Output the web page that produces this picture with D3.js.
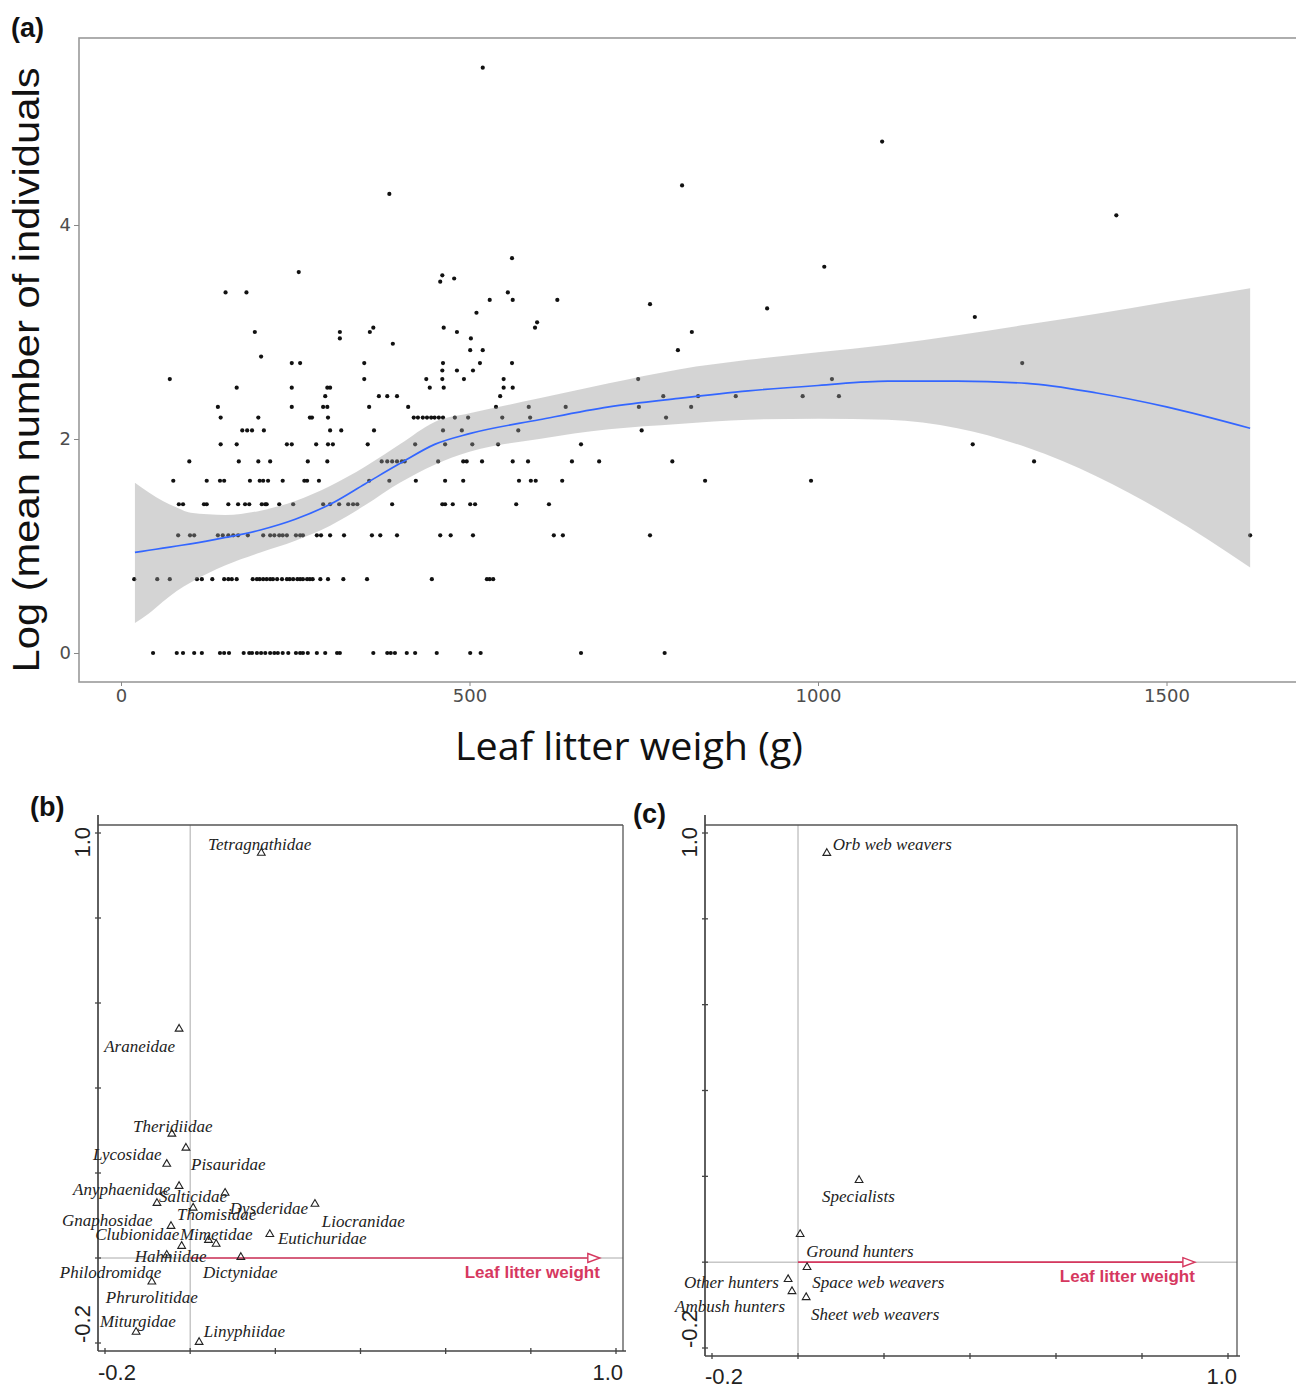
<!DOCTYPE html>
<html><head><meta charset="utf-8">
<script src="https://cdn.jsdelivr.net/npm/d3@7"></script>
<style>body{margin:0;background:#fff}</style>
</head><body>
<script>
// ---------------- Panel (a) data ----------------
// y levels: log(mean number of individuals); x: leaf litter weight (g)
const countLevels = [0.00,0.69,1.10,1.39,1.61,1.79,1.95,2.08,2.20,2.30,2.40,2.48,2.56,2.64,2.71,2.77,2.83,2.89,2.94,3.00,3.04,3.09,3.14,3.18,3.22,3.26,3.30,3.37,3.47,3.50,3.53,3.56,3.61,3.69,4.09,4.29,4.37,4.78,5.47];
const weightsAtLevel = [
  [46,80,89,105,116,142,148,155,176,184,188,195,201,207,214,220,225,232,240,251,257,261,268,281,293,310,314,362,382,387,393,410,422,453,501,516,660,780],
  [19,52,70,109,116,131,148,154,159,166,189,195,199,204,209,214,218,224,231,238,242,247,253,257,261,267,271,275,286,297,319,353,446,525,529,534],
  [82,99,105,139,146,154,161,168,182,204,214,220,227,232,238,251,257,261,281,287,300,320,360,372,396,458,473,505,621,634,759,1620],
  [83,89,119,123,154,168,178,184,202,207,209,227,247,290,300,313,326,333,339,389,461,465,476,501,508,567,614],
  [75,123,142,148,185,199,204,211,232,263,267,284,356,385,423,465,491,571,588,595,633,838,990],
  [98,169,197,214,268,296,374,382,389,396,403,407,455,491,496,518,562,584,647,686,791,1310],
  [143,166,238,245,280,297,304,354,422,465,504,541,660,1222],
  [174,181,188,205,300,316,363,462,489,570,747],
  [143,197,271,274,297,420,426,433,439,445,450,456,462,479,498,547,587,782],
  [139,245,290,296,356,412,538,585,638,743,818],
  [293,370,382,396,544,778,828,882,978,1030],
  [166,245,296,300,443,463,549,562],
  [70,349,438,461,492,549,742,1020],
  [461,482,505],
  [245,257,349,462,515,561,1293],
  [201],
  [501,519,799],
  [390],
  [314,502],
  [192,314,357,482,819],
  [362,463,594],
  [597],
  [1225],
  [510],
  [927],
  [759],
  [529,562,626],
  [150,180,555],
  [458],
  [478],
  [461],
  [255],
  [1009],
  [561],
  [1428],
  [385],
  [805],
  [1092],
  [519]
];
// smoother (loess) and its confidence band
const fitX     = [20,40,60,80,100,150,200,250,300,350,400,450,500,600,700,800,900,1000,1100,1200,1300,1400,1500,1620];
const fitY     = [0.94,0.96,0.98,1.00,1.02,1.08,1.15,1.25,1.39,1.58,1.77,1.95,2.05,2.18,2.30,2.38,2.45,2.50,2.54,2.54,2.52,2.43,2.30,2.10];
const fitUpper = [1.59,1.50,1.42,1.36,1.31,1.29,1.33,1.42,1.56,1.74,1.95,2.16,2.24,2.38,2.52,2.65,2.74,2.81,2.88,2.97,3.07,3.17,3.28,3.41];
const fitLower = [0.28,0.37,0.48,0.58,0.66,0.82,0.94,1.05,1.19,1.38,1.59,1.76,1.88,2.00,2.09,2.14,2.18,2.19,2.18,2.10,1.92,1.65,1.30,0.80];
const xTicksA = [0,500,1000,1500];
const yTicksA = [0,2,4];

// ---------------- Panel (b) data ----------------
const familyNames = ["Tetragnathidae","Araneidae","Theridiidae","Pisauridae","Lycosidae","Anyphaenidae","Salticidae","Dysderidae","Thomisidae","Liocranidae","Gnaphosidae","Clubionidae","Mimetidae","Phrurolitidae","Eutichuridae","Hahniidae","Dictynidae","Philodromidae","Miturgidae","Linyphiidae"];
const familyAx1 = [0.167,-0.026,-0.043,-0.010,-0.055,-0.026,-0.078,0.082,0.007,0.293,-0.045,-0.020,0.043,0.061,0.187,-0.055,0.119,-0.090,-0.127,0.021];
const familyAx2 = [0.953,0.539,0.292,0.259,0.221,0.169,0.129,0.153,0.118,0.127,0.075,0.028,0.042,0.033,0.056,0.007,0.002,-0.056,-0.174,-0.198];
const familyLabX = [0.042,-0.202,-0.134,0.002,-0.228,-0.275,-0.073,0.093,-0.031,0.309,-0.301,-0.223,-0.024,-0.198,0.206,-0.130,0.030,-0.306,-0.212,0.032];
const familyLabY = [0.960,0.485,0.296,0.207,0.231,0.148,0.132,0.104,0.089,0.073,0.075,0.042,0.042,-0.106,0.033,-0.009,-0.047,-0.047,-0.162,-0.186];
const envArrowB = 0.962;

// ---------------- Panel (c) data ----------------
const guildNames = ["Orb web weavers","Specialists","Ground hunters","Space web weavers","Other hunters","Ambush hunters","Sheet web weavers"];
const guildAx1 = [0.067,0.142,0.005,0.021,-0.023,-0.014,0.019];
const guildAx2 = [0.953,0.191,0.065,-0.012,-0.040,-0.068,-0.082];
const guildLabX = [0.081,0.056,0.019,0.033,-0.265,-0.286,0.030];
const guildLabY = [0.960,0.140,0.012,-0.061,-0.061,-0.117,-0.135];
const envArrowC = 0.923;
const ordTicks = [-0.2,0,0.2,0.4,0.6,0.8,1.0];
const envName = "Leaf litter weight";

// ================= drawing =================
const svg = d3.select("body").append("svg").attr("width",1296).attr("height",1388)
  .style("font-family","'Liberation Sans', Arial, sans-serif");

// ---------- Panel (a) ----------
const xA = d3.scaleLinear().domain([0,1500]).range([121,1166.5]);
const yA = d3.scaleLinear().domain([0,4]).range([653,225]);
const gA = svg.append("g");
gA.append("rect").attr("x",79).attr("y",38).attr("width",1260).attr("height",644)
  .attr("fill","none").attr("stroke","#9a9a9a").attr("stroke-width",1.6);

const pts = [];
countLevels.forEach((lv,i)=>weightsAtLevel[i].forEach(w=>pts.push([w,lv])));
gA.append("g").selectAll("circle").data(pts).join("circle")
  .attr("cx",d=>xA(d[0])).attr("cy",d=>yA(d[1])).attr("r",2.1).attr("fill","#111");

const band = d3.area().x((d,i)=>xA(fitX[i])).y0((d,i)=>yA(fitLower[i])).y1((d,i)=>yA(fitUpper[i])).curve(d3.curveMonotoneX);
gA.append("path").attr("d",band(fitX)).attr("fill","#999").attr("fill-opacity",0.42);
const fitLine = d3.line().x((d,i)=>xA(fitX[i])).y((d,i)=>yA(fitY[i])).curve(d3.curveMonotoneX);
gA.append("path").attr("d",fitLine(fitX)).attr("fill","none").attr("stroke","#3366FF").attr("stroke-width",1.7);

const axYA = gA.append("g").attr("transform","translate(79,0)")
  .call(d3.axisLeft(yA).tickValues(yTicksA).tickFormat(d3.format("d")).tickSize(5).tickPadding(3));
const axXA = gA.append("g").attr("transform","translate(0,682)")
  .call(d3.axisBottom(xA).tickValues(xTicksA).tickFormat(d3.format("d")).tickSize(4).tickPadding(3));
[axYA,axXA].forEach(a=>{
  a.select(".domain").remove();
  a.selectAll(".tick line").attr("stroke","#888");
  a.selectAll(".tick text").attr("fill","#4d4d4d").style("font-family","'DejaVu Sans', sans-serif").style("font-size","18px");
});

gA.append("text").attr("transform","translate(39,370) rotate(-90)").attr("text-anchor","middle")
  .attr("textLength",605).attr("lengthAdjust","spacingAndGlyphs")
  .style("font-size","37px").attr("fill","#111").text("Log (mean number of individuals");
gA.append("text").attr("x",455).attr("y",760).attr("textLength",348).attr("lengthAdjust","spacingAndGlyphs")
  .style("font-family","'Open Sans', sans-serif").style("font-size","38px").attr("fill","#111").text("Leaf litter weigh (g)");
svg.append("text").attr("x",11).attr("y",37).style("font-size","27px").style("font-weight","bold").attr("fill","#111").text("(a)");

// ---------- ordination panels ----------
function ordination(cfg){
  const {x0,x1,yTop,yBot,xs,ys,names,ax1,ax2,labX,labY,arrowEnd,label,panelLetter,letterX,letterY,xLabBase} = cfg;
  const g = svg.append("g");
  // zero lines
  g.append("line").attr("x1",x0).attr("x2",x1).attr("y1",ys(0)).attr("y2",ys(0)).attr("stroke","#aaa").attr("stroke-width",1);
  g.append("line").attr("x1",xs(0)).attr("x2",xs(0)).attr("y1",yTop).attr("y2",yBot).attr("stroke","#aaa").attr("stroke-width",1);
  // frame
  g.append("line").attr("x1",x0).attr("x2",x1).attr("y1",yTop).attr("y2",yTop).attr("stroke","#555").attr("stroke-width",1.3);
  g.append("line").attr("x1",x1).attr("x2",x1).attr("y1",yTop).attr("y2",yBot).attr("stroke","#555").attr("stroke-width",1.3);
  g.append("line").attr("x1",x0).attr("x2",x0).attr("y1",yTop-10).attr("y2",yBot).attr("stroke","#444").attr("stroke-width",1.7);
  g.append("line").attr("x1",x0).attr("x2",x1+3).attr("y1",yBot).attr("y2",yBot).attr("stroke","#444").attr("stroke-width",1.7);
  // ticks
  g.selectAll(".yt").data(ordTicks).join("line").attr("x1",x0-3).attr("x2",x0+3)
    .attr("y1",d=>ys(d)).attr("y2",d=>ys(d)).attr("stroke","#444").attr("stroke-width",1.3);
  g.selectAll(".xt").data(ordTicks).join("line").attr("y1",yBot-3).attr("y2",yBot+3)
    .attr("x1",d=>xs(d)).attr("x2",d=>xs(d)).attr("stroke","#444").attr("stroke-width",1.3);
  // tick labels
  g.append("text").attr("transform",`translate(${x0-8},${ys(1.0)-6}) rotate(-90)`).attr("text-anchor","end")
    .style("font-size","22px").attr("fill","#222").text("1.0");
  g.append("text").attr("transform",`translate(${x0-8},${ys(-0.2)}) rotate(-90)`).attr("text-anchor","start")
    .style("font-size","22px").attr("fill","#222").text("-0.2");
  g.append("text").attr("x",x0).attr("y",xLabBase).attr("text-anchor","start").style("font-size","22px").attr("fill","#222").text("-0.2");
  g.append("text").attr("x",x1).attr("y",xLabBase).attr("text-anchor","end").style("font-size","22px").attr("fill","#222").text("1.0");
  // environmental arrow
  const red = "#d6385f";
  const ax = xs(arrowEnd), ay = ys(0);
  g.append("line").attr("x1",xs(0)).attr("x2",ax-12).attr("y1",ay).attr("y2",ay).attr("stroke",red).attr("stroke-width",1.6);
  g.append("path").attr("d",`M${ax-12},${ay-4.5}L${ax},${ay}L${ax-12},${ay+4.5}Z`).attr("fill","#fff").attr("stroke",red).attr("stroke-width",1.4);
  g.append("text").attr("x",ax).attr("y",ay+20).attr("text-anchor","end").style("font-size","17px").style("font-weight","bold")
    .attr("fill",red).text(label);
  // species
  const tri = d3.symbol().type(d3.symbolTriangle).size(26);
  g.selectAll(".sp").data(names).join("path").attr("d",tri)
    .attr("transform",(d,i)=>`translate(${xs(ax1[i])},${ys(ax2[i])})`).attr("fill","none").attr("stroke","#222").attr("stroke-width",1.1);
  g.selectAll(".lab").data(names).join("text")
    .attr("x",(d,i)=>xs(labX[i])).attr("y",(d,i)=>ys(labY[i]))
    .style("font-family","'Liberation Serif','Times New Roman',serif").style("font-style","italic").style("font-size","17px")
    .attr("fill","#222").text(d=>d);
  svg.append("text").attr("x",letterX).attr("y",letterY).style("font-size","27px").style("font-weight","bold").attr("fill","#111").text(panelLetter);
}

ordination({
  x0:98,x1:623,yTop:825,yBot:1351,
  xs:d3.scaleLinear().domain([-0.2,1.0]).range([105,616]),
  ys:d3.scaleLinear().domain([-0.2,1.0]).range([1343,833]),
  names:familyNames,ax1:familyAx1,ax2:familyAx2,labX:familyLabX,labY:familyLabY,
  arrowEnd:envArrowB,label:envName,panelLetter:"(b)",letterX:30,letterY:816,xLabBase:1380
});
ordination({
  x0:705,x1:1237,yTop:825,yBot:1356,
  xs:d3.scaleLinear().domain([-0.2,1.0]).range([712,1228]),
  ys:d3.scaleLinear().domain([-0.2,1.0]).range([1348,833]),
  names:guildNames,ax1:guildAx1,ax2:guildAx2,labX:guildLabX,labY:guildLabY,
  arrowEnd:envArrowC,label:envName,panelLetter:"(c)",letterX:633,letterY:823,xLabBase:1384
});
</script>
</body></html>
